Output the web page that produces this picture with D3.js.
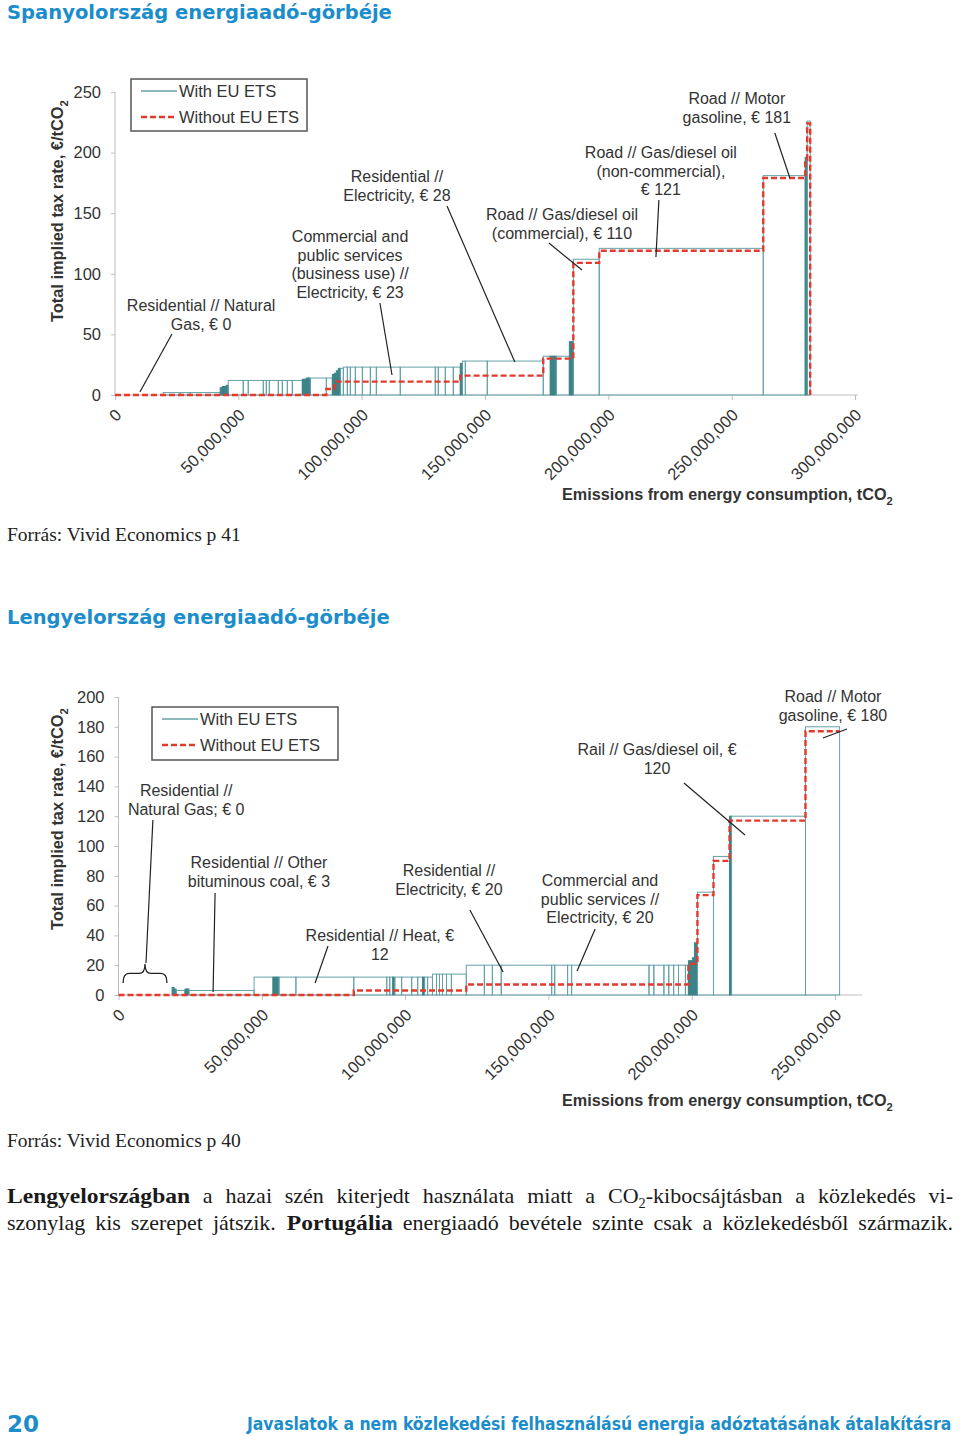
<!DOCTYPE html>
<html><head><meta charset="utf-8">
<script src="https://cdn.jsdelivr.net/npm/d3@7"></script>
<style>body{margin:0;background:#fff}</style>
</head><body>
<svg id="page" width="960" height="1436"></svg>
<script>
// ---------------- DATA ----------------
// Spain: segment widths (Mt CO2), implied tax rate with / without EU ETS (€/tCO2)
const spainWidth = [6.1,6.1,7.3, 6.9,4.05,12.2, 0.81,0.81,0.81,0.81,
  6.1,2.03,6.1,1.22,1.22,3.65,1.62,2.03,2.03,4.05,
  0.81,0.81,0.81,0.81, 6.5, 2.43, 0.81,0.81,0.81,0.81,1.22,
  1.62,1.22,2.03,2.84,3.24,2.43,9.7,14.2,1.22,2.84,3.24,2.84,
  0.81, 1.22,8.9,22.7, 2.84,0.81,0.81,0.81,5.3, 0.81,0.81,
  10.5,66.5,17.0,0.81,1.22];
const spainWith = [0,0,0, 2,2,2, 6,7,7,8,
  12,12,12,12,12,12,12,12,12,12,
  13,13,14,14, 14, 14, 17,18,20,22,22,
  23,23,23,23,23,23,23,23,23,23,23,23,
  26, 28,28,28, 32,32,32,32,32, 44,44,
  112,121,181,196,226];
const spainWithout = [0,0,0, 0,0,0, 0,0,0,0,
  0,0,0,0,0,0,0,0,0,0,
  0,0,0,0, 0, 5, 5,8,11,11,11,
  11,11,11,11,11,11,11,11,11,11,11,11,
  16, 16,16,16, 30,30,30,30,30, 30,30,
  109,119,179,194,224];
const spainXTicks = [0,50,100,150,200,250,300];   // million tCO2
const spainYTicks = [0,50,100,150,200,250];

// Poland
const polandWidth = [7.5,11.2, 0.7,0.7,3.1,0.7,0.7,22.7, 6.6,0.7,0.7,0.7,5.9,20.2,
  11.5,1.05,1.05,0.7,2.4,3.5,2.1,1.7,0.7,1.05,1.7,
  1.4,1.05,1.05,1.4,1.7,5.2,
  6.3,2.8,3.1,17.6,1.05,4.5,1.4,27.0,1.7,3.5,1.7,1.7,1.7,2.4,1.05,
  0.7,0.7,0.7,0.7,0.35,
  5.6,5.6,0.7,25.8,11.9];
const polandWith = [0,0, 5,4,3,4,4,3, 12,12,12,12,12,12,
  12,12,12,12,12,12,12,12,12,12,12,
  14,14,14,14,14,14,
  20,20,20,20,20,20,20,20,20,20,20,20,20,20,20,
  23,23,25,35,35,
  69,93,120,120,180];
const polandWithout = [0,0, 0,0,0,0,0,0, 0,0,0,0,0,0,
  3,3,3,3,3,3,3,3,3,3,3,
  3,3,3,3,3,3,
  7,7,7,7,7,7,7,7,7,7,7,7,7,7,7,
  21,21,21,21,21,
  67,90,117,117,177];
const polandXTicks = [0,50,100,150,200,250];
const polandYTicks = [0,20,40,60,80,100,120,140,160,180,200];

// Annotations: label lines, label anchor (Mt, value), leader from/to (Mt, value)
const spainNotes = [
  {lines:["Road // Motor","gasoline, € 181"], at:[252.1,240.1], from:[267.5,216.2], to:[273.6,179.0]},
  {lines:["Road // Gas/diesel oil","(non-commercial),","€ 121"], at:[221.3,195.5], from:[220.5,160.9], to:[219.3,113.9]},
  {lines:["Road // Gas/diesel oil","(commercial), € 110"], at:[181.2,144.4], from:[175.9,125.4], to:[189.3,103.1]},
  {lines:["Residential //","Electricity, € 28"], at:[114.3,175.7], from:[134.6,155.9], to:[162.1,27.2]},
  {lines:["Commercial and","public services","(business use) //","Electricity, € 23"], at:[95.3,126.2], from:[107.4,75.9], to:[112.3,16.5]},
  {lines:["Residential // Natural","Gas, € 0"], at:[34.9,69.3], from:[23.1,50.3], to:[10.1,2.5]}
];
const polandNotes = [
  {lines:["Road // Motor","gasoline, € 180"], at:[249.3,196.6], from:[245.8,172.5], to:[254.2,178.5]},
  {lines:["Rail // Gas/diesel oil, €","120"], at:[187.9,161.1], from:[197.3,142.3], to:[218.6,107.4]},
  {lines:["Commercial and","public services //","Electricity, € 20"], at:[168.0,73.2], from:[166.3,44.3], to:[160.0,16.1]},
  {lines:["Residential //","Electricity, € 20"], at:[115.3,79.9], from:[122.6,57.0], to:[134.2,15.4]},
  {lines:["Residential // Heat, €","12"], at:[91.2,36.2], from:[73.1,32.9], to:[68.6,8.1]},
  {lines:["Residential // Other","bituminous coal, € 3"], at:[49.0,85.2], from:[33.7,68.5], to:[33.0,2.0]},
  {lines:["Residential //","Natural Gas; € 0"], at:[23.6,133.6], from:[12.0,117.4], to:[9.6,21.5]}
];
const polandBrace = {x0:1.6, x1:16.9, base:8.1, tip:20.8};

const legendLabels = ["With EU ETS","Without EU ETS"];
const yTitle = ["Total implied tax rate, €/tCO","2"];
const xTitle = ["Emissions from energy consumption, tCO","2"];

// ---------------- DRAWING ----------------
const svg = d3.select("#page");
svg.append("rect").attr("width",960).attr("height",1436).attr("fill","#fff");
const BLUE = "#1b8dca", TEAL = "#64a2a7", DARK = "#3d8388", RED = "#e23a2c", AX = "#bfbfbf", TXT = "#333";
const SANS = "Liberation Sans, Arial, sans-serif";

function fitted(x, y, width, build){
  const g = svg.append("g");
  const t = build(g);
  const w = t.node().getBBox().width;
  g.attr("transform",`translate(${x},${y}) scale(${width/w},1)`);
  return g;
}
function heading(text, y, width){
  fitted(7, y, width, g => g.append("text").attr("font-family","DejaVu Sans")
    .attr("font-weight","bold").attr("font-size",19.5).attr("fill",BLUE).text(text));
}
function source(text, y){
  fitted(7, y, 234, g => g.append("text").attr("font-family","Liberation Serif")
    .attr("font-size",19.5).attr("fill","#222").text(text));
}

function subText(g, parts, size, subSize, bold){
  const t = g.append("text").attr("font-family",SANS).attr("font-size",size).attr("fill",TXT);
  if (bold) t.attr("font-weight","bold");
  t.append("tspan").text(parts[0]);
  t.append("tspan").attr("font-size",subSize).attr("dy",size*0.3).text(parts[1]);
  return t;
}

function drawChart(c){
  const x = d3.scaleLinear().domain([0, c.xTicks[c.xTicks.length-1]]).range(c.xRange);
  const y = d3.scaleLinear().domain([0, c.yTicks[c.yTicks.length-1]]).range(c.yRange);
  const g = svg.append("g");
  const y0 = y(0);

  // axes
  g.append("line").attr("x1",x(0)).attr("x2",c.xAxisEnd).attr("y1",y0).attr("y2",y0).attr("stroke",AX);
  g.append("line").attr("x1",x(0)).attr("x2",x(0)).attr("y1",y0).attr("y2",y(c.yTicks[c.yTicks.length-1])).attr("stroke",AX);
  const fmt = d3.format(",");
  const xa = g.append("g").attr("transform",`translate(0,${y0})`)
    .call(d3.axisBottom(x).tickValues(c.xTicks).tickSize(5).tickFormat(d => fmt(d*1e6)));
  xa.select(".domain").remove();
  xa.selectAll(".tick line").attr("stroke",AX);
  xa.selectAll(".tick text").attr("font-family",SANS).attr("font-size",16.5).attr("fill",TXT)
    .attr("text-anchor","end").attr("x",0).attr("y",0).attr("dy","0.35em")
    .attr("transform","translate(3,17) rotate(-45)");
  const ya = g.append("g").attr("transform",`translate(${x(0)},0)`)
    .call(d3.axisLeft(y).tickValues(c.yTicks).tickSize(4).tickPadding(c.yPad));
  ya.select(".domain").remove();
  ya.selectAll(".tick line").attr("stroke",AX);
  ya.selectAll(".tick text").attr("font-family",SANS).attr("font-size",16.5).attr("fill",TXT);

  // segments
  let s = 0;
  const segs = c.width.map((w,i) => { const a = s; s += w; return {a, b:s, v:c.with[i], u:c.without[i]}; });
  g.append("g").selectAll("rect").data(segs.filter(d => d.v > 0)).join("rect")
    .attr("x", d => x(d.a)).attr("width", d => x(d.b)-x(d.a))
    .attr("y", d => y(d.v)).attr("height", d => y0 - y(d.v))
    .attr("fill", d => (x(d.b)-x(d.a)) < 3 ? DARK : "none")
    .attr("stroke", d => (x(d.b)-x(d.a)) < 3 ? DARK : TEAL).attr("stroke-width",1);

  // without-ETS step line
  const pts = segs.map(d => [d.a, d.u]);
  pts.push([s, segs[segs.length-1].u]);
  if (c.dropEnd) pts.push([s, 0]);
  g.append("path").attr("d", d3.line().x(d=>x(d[0])).y(d=>y(d[1])).curve(d3.curveStepAfter)(pts))
    .attr("fill","none").attr("stroke",RED).attr("stroke-width",2.4).attr("stroke-dasharray","6,3");

  // annotations
  c.notes.forEach(n => {
    g.append("line").attr("x1",x(n.from[0])).attr("y1",y(n.from[1]))
      .attr("x2",x(n.to[0])).attr("y2",y(n.to[1])).attr("stroke","#222").attr("stroke-width",1.2);
    const t = g.append("text").attr("font-family",SANS).attr("font-size",16).attr("fill",TXT)
      .attr("text-anchor","middle");
    n.lines.forEach((l,i) => t.append("tspan").attr("x",x(n.at[0])).attr("y",y(n.at[1]) + i*18.6).text(l));
  });
  if (c.brace){
    const b = c.brace, xa0 = x(b.x0), xa1 = x(b.x1), xm = (xa0+xa1)/2, yb = y(b.base), yt = y(b.tip);
    const ym = (yb+yt)/2, q = 6;
    const p = `M${xa0},${yb} Q${xa0},${ym} ${xa0+q},${ym} L${xm-q},${ym} Q${xm},${ym} ${xm},${yt}` +
              ` Q${xm},${ym} ${xm+q},${ym} L${xa1-q},${ym} Q${xa1},${ym} ${xa1},${yb}`;
    g.append("path").attr("d",p).attr("fill","none").attr("stroke","#222").attr("stroke-width",1.3);
  }

  // legend
  const L = c.legend;
  g.append("rect").attr("x",L.x).attr("y",L.y).attr("width",L.w).attr("height",L.h)
    .attr("fill","#fff").attr("stroke","#555").attr("stroke-width",1.5);
  legendLabels.forEach((lab,i) => {
    const ly = L.y + 12 + i*26;
    g.append("line").attr("x1",L.x+10).attr("x2",L.x+46).attr("y1",ly).attr("y2",ly)
      .attr("stroke", i ? RED : TEAL).attr("stroke-width", i ? 2.4 : 1.3)
      .attr("stroke-dasharray", i ? "6,3" : null);
    g.append("text").attr("x",L.x+48).attr("y",ly+6).attr("font-family",SANS).attr("font-size",16.5)
      .attr("fill",TXT).text(lab);
  });

  // y title
  const yg = g.append("g");
  const yt = subText(yg, yTitle, 16, 11, true).attr("text-anchor","start");
  const yw = yt.node().getBBox().width;
  yg.attr("transform",`translate(${c.yTitle[0]},${c.yTitle[1]}) rotate(-90) scale(${c.yTitle[2]/yw},1) translate(${-yw/2},0)`);
  // x title
  const xg = g.append("g");
  const xt = subText(xg, xTitle, 16, 11, true);
  const xw = xt.node().getBBox().width;
  xg.attr("transform",`translate(${c.xTitle[0]},${c.xTitle[1]}) scale(${c.xTitle[2]/xw},1)`);
}

heading("Spanyolország energiaadó-görbéje", 19, 385);
drawChart({width:spainWidth, with:spainWith, without:spainWithout, xTicks:spainXTicks, yTicks:spainYTicks,
  xRange:[115,855], yRange:[395,92], xAxisEnd:858, yPad:10, dropEnd:true, notes:spainNotes,
  legend:{x:131,y:79,w:176,h:52}, yTitle:[63,211,222], xTitle:[562,500,331]});
source("Forrás: Vivid Economics p 41", 541);

heading("Lengyelország energiaadó-görbéje", 624, 383);
drawChart({width:polandWidth, with:polandWith, without:polandWithout, xTicks:polandXTicks, yTicks:polandYTicks,
  xRange:[118.5,835], yRange:[995,697], xAxisEnd:862, yPad:10, dropEnd:false, notes:polandNotes, brace:polandBrace,
  legend:{x:152,y:707,w:186,h:53}, yTitle:[63,819,222], xTitle:[562,1106,331]});
source("Forrás: Vivid Economics p 40", 1147);

// paragraph (justified)
const paraLines = [
  [["Lengyelországban",1],["a"],["hazai"],["szén"],["kiterjedt"],["használata"],["miatt"],["a"],["CO|2|-kibocsájtásban"],["a"],["közlekedés"],["vi-"]],
  [["szonylag"],["kis"],["szerepet"],["játszik."],["Portugália",1],["energiaadó"],["bevétele"],["szinte"],["csak"],["a"],["közlekedésből"],["származik."]]
];
function justify(tokens, yb, x0, x1, size){
  const g = svg.append("g");
  const items = tokens.map(tok => {
    const t = g.append("text").attr("font-family","Liberation Serif").attr("font-size",size).attr("fill","#1a1a1a");
    const parts = tok[0].split("|");
    if (parts.length === 3){
      t.append("tspan").text(parts[0]);
      t.append("tspan").attr("font-size",size*0.65).attr("dy",5).text(parts[1]);
      t.append("tspan").attr("dy",-5).text(parts[2]);
    } else t.text(parts[0]);
    if (tok[1]){
      t.attr("font-weight","bold");
      const w0 = t.node().getComputedTextLength();
      t.attr("textLength", w0*1.07).attr("lengthAdjust","spacingAndGlyphs");
    }
    return t;
  });
  const ws = items.map(t => t.node().getBBox().width);
  const tot = d3.sum(ws), avail = x1 - x0, minGap = size*0.22;
  const sc = Math.min(1, avail / (tot + minGap*(ws.length-1)));
  const gap = (avail/sc - tot)/(ws.length-1);
  let cx = 0;
  items.forEach((t,i) => { t.attr("x",cx); if (t.selectAll("tspan").size()) t.select("tspan").attr("x",cx); cx += ws[i] + gap; });
  g.attr("transform",`translate(${x0},${yb}) scale(${sc},1)`);
}
justify(paraLines[0], 1203, 7, 953, 22);
justify(paraLines[1], 1230, 7, 953, 22);

// footer
svg.append("text").attr("x",7).attr("y",1432).attr("font-family","DejaVu Sans").attr("font-weight","bold")
  .attr("font-size",23).attr("fill",BLUE).text("20");
fitted(247, 1430, 706, g => g.append("text").attr("font-family","DejaVu Sans Condensed").attr("font-weight","bold")
  .attr("font-size",17).attr("fill",BLUE).text("Javaslatok a nem közlekedési felhasználású energia adóztatásának átalakításra"));
</script>
</body></html>
